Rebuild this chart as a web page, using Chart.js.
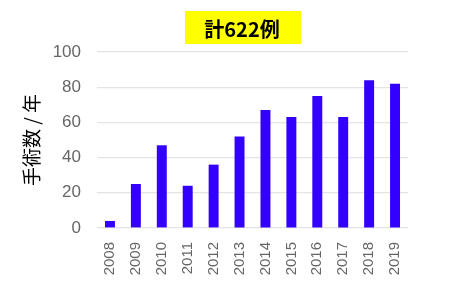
<!DOCTYPE html>
<html>
<head>
<meta charset="utf-8">
<script src="https://cdn.jsdelivr.net/npm/chart.js@4/dist/chart.umd.min.js"></script>
<style>
  html, body { margin: 0; padding: 0; background: #ffffff; }
  #wrap { width: 449px; height: 282px; position: relative; }
</style>
</head>
<body>
<div id="wrap"><canvas id="c" width="449" height="282"></canvas></div>
<script>
const categories = ["2008","2009","2010","2011","2012","2013","2014","2015","2016","2017","2018","2019"];
const surgeries = [4, 25, 47, 24, 36, 52, 67, 63, 75, 63, 84, 82];
const yTicks = [0, 20, 40, 60, 80, 100];
const titleText = "計622例";
const yAxisTitle = "手術数 / 年";

const boxTitle = {
  id: 'boxTitle',
  afterDraw(chart) {
    const ctx = chart.ctx;
    ctx.save();
    ctx.font = 'bold 20px "Noto Sans CJK JP", sans-serif';
    const cx = 242, cy = 28;
    ctx.fillStyle = '#FFFF00';
    ctx.fillRect(185, 11, 116, 33);
    ctx.fillStyle = '#000000';
    ctx.textAlign = 'center';
    ctx.textBaseline = 'middle';
    ctx.fillText(titleText, cx, cy + 1);
    ctx.restore();
  }
};

new Chart(document.getElementById('c'), {
  type: 'bar',
  data: {
    labels: categories,
    datasets: [{
      data: surgeries,
      backgroundColor: '#3300FF',
      borderWidth: 0,
      categoryPercentage: 0.8,
      barPercentage: 0.48
    }]
  },
  options: {
    responsive: false,
    animation: false,
    devicePixelRatio: 1,
    layout: { padding: { top: 52, right: 41, bottom: 0, left: 0 } },
    plugins: { legend: { display: false }, title: { display: false }, tooltip: { enabled: false } },
    scales: {
      x: {
        grid: { display: false },
        border: { display: false },
        ticks: {
          color: '#666666',
          font: { family: '"Liberation Sans", Arial, sans-serif', size: 15 },
          minRotation: 90, maxRotation: 90,
          padding: 6
        },
        afterFit(scale) { scale.height = 54; }
      },
      y: {
        min: 0, max: 100,
        afterBuildTicks(scale) { scale.ticks = yTicks.map(v => ({ value: v })); },
        grid: { color: '#E4E4E4', lineWidth: 1.2, drawTicks: false },
        border: { display: false },
        ticks: {
          color: '#666666',
          font: { family: '"Liberation Sans", Arial, sans-serif', size: 17 },
          padding: 16
        },
        title: {
          display: true,
          text: yAxisTitle,
          color: '#000000',
          font: { family: '"Noto Sans CJK JP", sans-serif', size: 19, weight: '400' },
          padding: { top: 20, bottom: 0 }
        },
        afterFit(scale) { scale.width = 97; }
      }
    }
  },
  plugins: [boxTitle]
});
</script>
</body>
</html>
